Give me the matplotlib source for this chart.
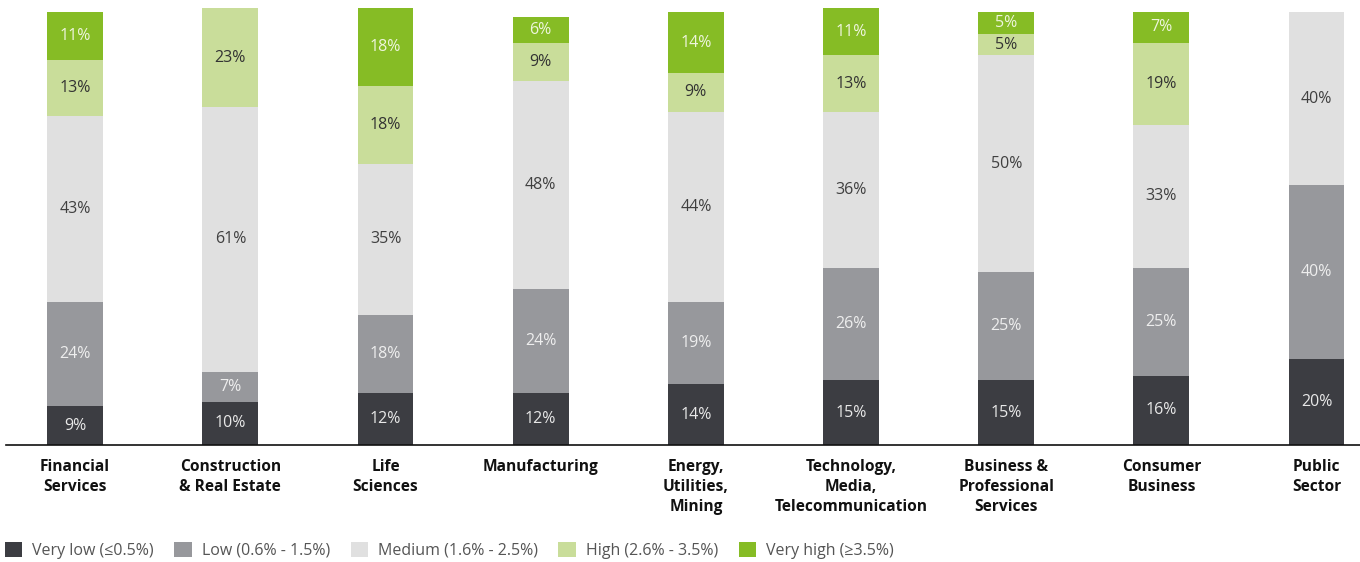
import numpy as np
import matplotlib.pyplot as plt
from matplotlib.patches import Patch

plt.rcParams['font.family'] = ['Open Sans', 'DejaVu Sans']

sectors = ['Financial\nServices', 'Construction\n& Real Estate', 'Life\nSciences',
           'Manufacturing', 'Energy,\nUtilities,\nMining',
           'Technology,\nMedia,\nTelecommunication', 'Business &\nProfessional\nServices',
           'Consumer\nBusiness', 'Public\nSector']

very_low = [9, 10, 12, 12, 14, 15, 15, 16, 20]
low = [24, 7, 18, 24, 19, 26, 25, 25, 40]
medium = [43, 61, 35, 48, 44, 36, 50, 33, 40]
high = [13, 23, 18, 9, 9, 13, 5, 19, 0]
very_high = [11, 0, 18, 6, 14, 11, 5, 7, 0]

levels = ['Very low (≤0.5%)', 'Low (0.6% - 1.5%)', 'Medium (1.6% - 2.5%)',
          'High (2.6% - 3.5%)', 'Very high (≥3.5%)']
colors = ['#3c3d42', '#97989c', '#e0e0e0', '#c9dd9a', '#86bc25']
text_colors = ['#e8e8e8', '#eeeeee', '#404040', '#333333', '#eef5dd']

fig = plt.figure(figsize=(13.6, 5.62), dpi=100)
ax = fig.add_axes([0.0045, 0.208, 0.9955, 0.778])

x = np.arange(len(sectors))
bottom = np.zeros(len(sectors))
for series, color, tcolor in zip([very_low, low, medium, high, very_high], colors, text_colors):
    vals = np.array(series, dtype=float)
    ax.bar(x, vals, width=0.36, bottom=bottom, color=color, linewidth=0)
    for xi, b, v in zip(x, bottom, vals):
        if v > 0:
            ax.text(xi, b + v / 2, f'{int(v)}%', ha='center', va='center',
                    fontsize=11.5, color=tcolor)
    bottom += vals

ax.set_xlim(-0.445, 8.28)
ax.set_ylim(0, 101)
ax.set_xticks(x)
ax.set_xticklabels(sectors, fontsize=11.2, fontweight='bold', color='#111111',
                   linespacing=1.33, va='top')
ax.tick_params(axis='x', length=0, pad=10)
ax.set_yticks([])
for side in ['left', 'right', 'top']:
    ax.spines[side].set_visible(False)
ax.spines['bottom'].set_color('#111111')
ax.spines['bottom'].set_linewidth(1.2)

handles = [Patch(facecolor=c, edgecolor='none') for c in colors]
fig.legend(handles, levels, loc='lower left', bbox_to_anchor=(-0.007, -0.02), ncol=5,
           frameon=False, fontsize=11.5, handlelength=1.1, handleheight=1.1,
           handletextpad=0.6, columnspacing=1.3, labelcolor='#555555')

fig.savefig('out.png', dpi=100)
